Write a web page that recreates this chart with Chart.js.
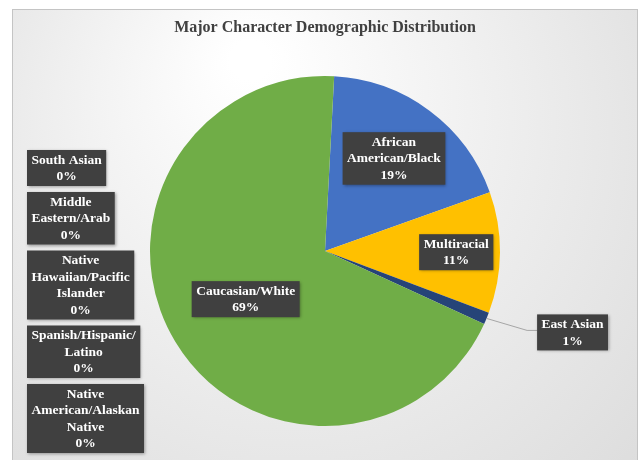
<!DOCTYPE html>
<html>
<head>
<meta charset="utf-8">
<script src="https://cdn.jsdelivr.net/npm/chart.js@4"></script>
<style>
  html, body { margin: 0; padding: 0; background: #fff; }
  #wrap { width: 642px; height: 460px; }
</style>
</head>
<body>
<div id="wrap"><canvas id="myChart" width="642" height="460"></canvas></div>
<script>
// slices, clockwise from the top
const categories = ['African American/Black', 'Multiracial', 'East Asian', 'South Asian',
    'Middle Eastern/Arab', 'Native Hawaiian/Pacific Islander', 'Spanish/Hispanic/Latino',
    'Native American/Alaskan Native', 'Caucasian/White'];
const shares = [18.7, 11.2, 1.1, 0, 0, 0, 0, 0, 69.0];
const labelLines = [
    ['African', 'American/Black'],
    ['Multiracial'],
    ['East Asian'],
    ['South Asian'],
    ['Middle', 'Eastern/Arab'],
    ['Native', 'Hawaiian/Pacific', 'Islander'],
    ['Spanish/Hispanic/', 'Latino'],
    ['Native', 'American/Alaskan', 'Native'],
    ['Caucasian/White']
];
const sliceColors = ['#4472C4', '#FFC000', '#264478', '#A5A5A5', '#5B9BD5',
    '#ED7D31', '#9E480E', '#636363', '#70AD47'];

const labelFont = 'bold 13.5px "Liberation Serif"';
const lineH = 16.5;

function drawBox(ctx, lines, cx, cy, left) {
    ctx.font = labelFont;
    let w = 0;
    lines.forEach(l => { w = Math.max(w, ctx.measureText(l).width); });
    const bw = w + 9, bh = lines.length * lineH + 3;
    const x0 = left !== undefined ? left : cx - bw / 2;
    const y0 = left !== undefined ? cy : cy - bh / 2;
    ctx.save();
    ctx.shadowColor = 'rgba(0,0,0,0.35)';
    ctx.shadowBlur = 3;
    ctx.shadowOffsetX = 1;
    ctx.shadowOffsetY = 1;
    ctx.fillStyle = '#404040';
    ctx.fillRect(x0, y0, bw, bh);
    ctx.restore();
    ctx.fillStyle = '#ffffff';
    ctx.textAlign = 'center';
    ctx.textBaseline = 'middle';
    lines.forEach((l, i) => {
        ctx.fillText(l, x0 + bw / 2, y0 + 2 + lineH * (i + 0.5));
    });
    return {x0, y0, bw, bh};
}

const background = {
    id: 'background',
    beforeDraw(chart) {
        const ctx = chart.ctx;
        ctx.save();
        ctx.fillStyle = '#ffffff';
        ctx.fillRect(0, 0, chart.width, chart.height);
        const g = ctx.createRadialGradient(250, 60, 20, 320, 200, 560);
        g.addColorStop(0, '#ffffff');
        g.addColorStop(1, '#d4d4d4');
        ctx.fillStyle = g;
        ctx.fillRect(12, 9, 626, 460);
        ctx.strokeStyle = '#c4c4c4';
        ctx.lineWidth = 1;
        ctx.strokeRect(12.5, 9.5, 625, 460);
        ctx.restore();
    }
};

const sliceLabels = {
    id: 'sliceLabels',
    afterDatasetsDraw(chart) {
        const ctx = chart.ctx;
        const arcs = chart.getDatasetMeta(0).data;
        const fracs = [0.66, 0.75, 0, 0, 0, 0, 0, 0, 0.53];
        let stackY = 150;
        ctx.save();
        arcs.forEach((arc, i) => {
            const p = arc.getProps(['x', 'y', 'startAngle', 'endAngle', 'outerRadius'], true);
            const mid = (p.startAngle + p.endAngle) / 2;
            const lines = labelLines[i].concat([Math.round(shares[i]) + '%']);
            if (shares[i] === 0) {
                const b = drawBox(ctx, lines, 0, stackY, 27);
                stackY += b.bh + 6;
            } else if (shares[i] < 3) {
                const ax = p.x + Math.cos(mid) * p.outerRadius;
                const ay = p.y + Math.sin(mid) * p.outerRadius;
                const cx = ax + 86, cy = ay + 14;
                ctx.font = labelFont;
                const bw = ctx.measureText(lines[0]).width + 9;
                ctx.strokeStyle = '#a6a6a6';
                ctx.lineWidth = 1;
                ctx.beginPath();
                ctx.moveTo(ax, ay);
                ctx.lineTo(cx - bw / 2 - 10, cy - 2);
                ctx.lineTo(cx - bw / 2, cy - 2);
                ctx.stroke();
                drawBox(ctx, lines, cx, cy);
            } else {
                const r = p.outerRadius * fracs[i];
                drawBox(ctx, lines, p.x + Math.cos(mid) * r, p.y + Math.sin(mid) * r);
            }
        });
        ctx.restore();
    }
};

new Chart(document.getElementById('myChart'), {
    type: 'pie',
    data: {
        labels: categories,
        datasets: [{
            data: shares,
            backgroundColor: sliceColors,
            borderWidth: 0,
            hoverOffset: 0
        }]
    },
    options: {
        responsive: false,
        animation: false,
        rotation: 3,
        radius: 175,
        events: [],
        layout: { padding: { left: 8, right: 0, top: 0, bottom: 0 } },
        plugins: {
            legend: { display: false },
            tooltip: { enabled: false },
            title: {
                display: true,
                text: 'Major Character Demographic Distribution',
                color: '#404040',
                font: { family: '"Liberation Serif"', size: 16, weight: 'bold' },
                padding: { top: 18, bottom: 5 }
            }
        }
    },
    plugins: [background, sliceLabels]
});
</script>
</body>
</html>
